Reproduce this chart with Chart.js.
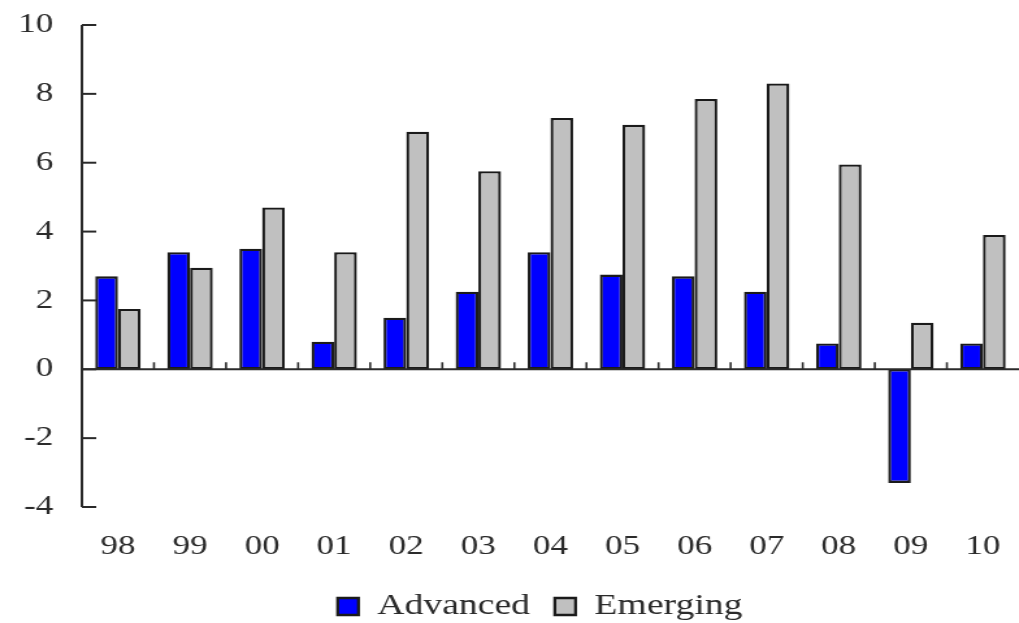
<!DOCTYPE html>
<html>
<head>
<meta charset="utf-8">
<script src="https://cdn.jsdelivr.net/npm/chart.js@4/dist/chart.umd.min.js"></script>
<style>
  html, body { margin: 0; padding: 0; background: #ffffff; overflow: hidden; }
  #wrap { width: 784px; height: 623px; transform: scaleX(1.2997); transform-origin: 0 0; }
  #chart { display: block; }
</style>
</head>
<body>
<div id="wrap"><canvas id="chart" width="784" height="623"></canvas></div>
<script>
// Real GDP growth, per cent
const years = ['98', '99', '00', '01', '02', '03', '04', '05', '06', '07', '08', '09', '10'];
const advanced = [2.7, 3.4, 3.5, 0.8, 1.5, 2.25, 3.4, 2.75, 2.7, 2.25, 0.75, -3.3, 0.75];
const emerging = [1.75, 2.95, 4.7, 3.4, 6.9, 5.75, 7.3, 7.1, 7.85, 8.3, 5.95, 1.35, 3.9];
const yTicks = [-4, -2, 0, 2, 4, 6, 8, 10];

const FONT = { family: '"Liberation Serif", "Times New Roman", serif', size: 27 };
const LEGEND_FONT = { family: '"Liberation Serif", "Times New Roman", serif', size: 29 };
const TEXT = '#2b2b2b';
const AXIS = '#2a2a2a';

// Draws the left axis with inward ticks, and the zero line with category separators
const axesPlugin = {
  id: 'axesPlugin',
  afterLayout(chart) {
    // nudge the legend row a little to the left
    if (chart.legend) { chart.legend.left -= 8; chart.legend.right -= 8; }
  },
  afterDatasetsDraw(chart) {
    const { ctx, chartArea, scales } = chart;
    const y = scales.y, x = scales.x;
    const left = chartArea.left;
    ctx.save();
    ctx.strokeStyle = AXIS;
    ctx.lineWidth = 2;
    // vertical axis
    ctx.beginPath();
    ctx.moveTo(left, y.getPixelForValue(10));
    ctx.lineTo(left, y.getPixelForValue(-4));
    ctx.stroke();
    // inward tick marks
    yTicks.forEach(v => {
      const py = y.getPixelForValue(v);
      ctx.beginPath();
      ctx.moveTo(left, py);
      ctx.lineTo(left + 11, py);
      ctx.stroke();
    });
    // zero line
    const y0 = y.getPixelForValue(0);
    ctx.beginPath();
    ctx.moveTo(left, y0);
    ctx.lineTo(chartArea.right, y0);
    ctx.stroke();
    // separators between categories
    ctx.lineWidth = 1.6;
    for (let i = 1; i < years.length; i++) {
      const px = (x.getPixelForValue(i - 1) + x.getPixelForValue(i)) / 2;
      ctx.beginPath();
      ctx.moveTo(px, y0);
      ctx.lineTo(px, y0 - 7);
      ctx.stroke();
    }
    ctx.restore();
  }
};

new Chart(document.getElementById('chart'), {
  type: 'bar',
  data: {
    labels: years,
    datasets: [
      { label: 'Advanced', data: advanced, backgroundColor: '#0000ff', borderColor: '#1a1a1a', borderWidth: 2.3, borderSkipped: false },
      { label: 'Emerging', data: emerging, backgroundColor: '#c0c0c0', borderColor: '#1a1a1a', borderWidth: 2.3, borderSkipped: false }
    ]
  },
  options: {
    responsive: false,
    devicePixelRatio: 1,
    animation: false,
    layout: { padding: { left: 14, right: 0, top: 25, bottom: -8 } },
    datasets: { bar: { categoryPercentage: 0.63, barPercentage: 1.0 } },
    scales: {
      x: {
        grid: { display: false, drawTicks: false },
        border: { display: false },
        ticks: { color: TEXT, font: FONT, padding: 24, maxRotation: 0 },
        afterFit(scale) { scale.height = 66; scale.paddingLeft = 0; scale.paddingRight = 0; }
      },
      y: {
        min: -4, max: 10,
        afterBuildTicks(scale) { scale.ticks = yTicks.map(v => ({ value: v })); },
        grid: { display: false, drawTicks: false },
        border: { display: false },
        ticks: { color: TEXT, font: FONT, padding: 22 },
        afterFit(scale) { scale.width = 49; scale.paddingTop = 0; scale.paddingBottom = 0; }
      }
    },
    plugins: {
      legend: {
        position: 'bottom',
        fullSize: false,
        labels: {
          color: TEXT, font: LEGEND_FONT, boxWidth: 16, boxHeight: 17, padding: 19
        }
      },
      tooltip: { enabled: false }
    }
  },
  plugins: [axesPlugin]
});
</script>
</body>
</html>
